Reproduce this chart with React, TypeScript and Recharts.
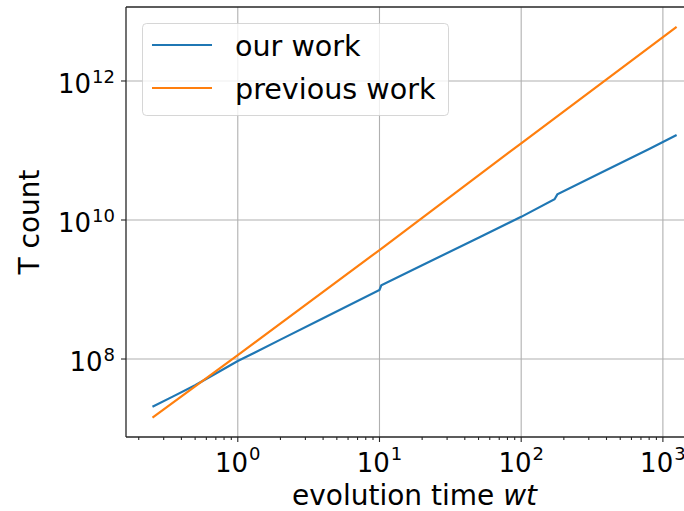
import React from "react";
import { LineChart, Line, XAxis, YAxis, CartesianGrid, Label } from "recharts";

// values (log-log axes)
const ourWorkT = [0.25, 0.35, 0.5, 0.7, 1, 2, 4, 10, 10.3, 20, 50, 100, 172, 180, 400, 800, 1250];
const ourWorkCount = [
  2.06e7, 2.9e7, 4.2e7, 6.2e7, 9.35e7, 1.9e8, 3.85e8, 9.84e8, 1.15e9, 2.23e9, 5.57e9, 1.11e10,
  1.99e10, 2.34e10, 5.25e10, 1.05e11, 1.67e11,
];
const prevWorkT = [0.25, 1, 10, 100, 1250];
const prevWorkCount = [1.43e7, 1.14e8, 3.7e9, 1.27e11, 6.0e12];

const xMajor = [1, 10, 100, 1000];
const xMinor = [
  0.2, 0.3, 0.4, 0.5, 0.6, 0.7, 0.8, 0.9, 2, 3, 4, 5, 6, 7, 8, 9, 20, 30, 40, 50, 60, 70, 80, 90,
  200, 300, 400, 500, 600, 700, 800, 900,
];
const yMajor = [1e8, 1e10, 1e12];

const ourWork = ourWorkT.map((x, i) => ({ x, y: ourWorkCount[i] }));
const prevWork = prevWorkT.map((x, i) => ({ x, y: prevWorkCount[i] }));

const FONT = "DejaVu Sans, sans-serif";
const AXIS = "#262626";
const BLUE = "#1f77b4";
const ORANGE = "#ff7f0e";

const exp10 = (v: number) => Math.round(Math.log10(v));

function XTick(props: any) {
  const { x, y, payload } = props;
  const v = payload.value;
  const major = xMajor.includes(v);
  return (
    <g>
      <line x1={x} x2={x} y1={y} y2={y + (major ? 5 : 3)} stroke={AXIS} strokeWidth={1.1} />
      {major && (
        <text x={x} y={y + 35} textAnchor="middle" fontFamily={FONT} fontSize={26} fill="#000">
          <tspan>10</tspan>
          <tspan dy={-12} dx={1} fontSize={18}>
            {exp10(v)}
          </tspan>
        </text>
      )}
    </g>
  );
}

function YTick(props: any) {
  const { x, y, payload } = props;
  return (
    <g>
      <line x1={x - 5} x2={x} y1={y} y2={y} stroke={AXIS} strokeWidth={1.1} />
      <text x={x - 11} y={y + 12} textAnchor="end" fontFamily={FONT} fontSize={26} fill="#000">
        <tspan>10</tspan>
        <tspan dy={-10} dx={1} fontSize={18}>
          {exp10(payload.value)}
        </tspan>
      </text>
    </g>
  );
}

export default function App() {
  return (
    <div style={{ position: "absolute", left: 0, top: 0, width: 684, height: 511, overflow: "hidden", background: "#fff" }}>
      <LineChart width={720} height={511} margin={{ top: 6, right: 17, bottom: 0, left: 0 }}>
        <CartesianGrid
          verticalValues={xMajor}
          horizontalValues={yMajor}
          stroke="#b0b0b0"
          strokeWidth={1.1}
        />
        <XAxis
          dataKey="x"
          type="number"
          scale="log"
          domain={[0.1626, 1919]}
          allowDataOverflow
          ticks={[...xMinor, ...xMajor].sort((a, b) => a - b)}
          interval={0}
          tick={<XTick />}
          tickLine={false}
          tickSize={0}
          tickMargin={0}
          height={74}
          axisLine={{ stroke: AXIS, strokeWidth: 1.3 }}
        >
          <Label
            content={() => (
              <text x={414.5} y={505} textAnchor="middle" fontFamily={FONT} fontSize={28} fill="#000">
                evolution time <tspan fontStyle="italic">wt</tspan>
              </text>
            )}
          />
        </XAxis>
        <XAxis
          xAxisId="top"
          orientation="top"
          dataKey="x"
          type="number"
          scale="log"
          domain={[0.1626, 1919]}
          allowDataOverflow
          height={1}
          ticks={xMajor}
          tick={false}
          tickLine={false}
          axisLine={{ stroke: AXIS, strokeWidth: 1.3 }}
        />
        <YAxis
          type="number"
          scale="log"
          domain={[7.55e6, 1.16e13]}
          allowDataOverflow
          ticks={yMajor}
          interval={0}
          tick={<YTick />}
          tickLine={false}
          tickSize={0}
          tickMargin={0}
          width={126}
          axisLine={{ stroke: AXIS, strokeWidth: 1.3 }}
        >
          <Label
            content={() => (
              <text
                x={0}
                y={0}
                transform="translate(39,222) rotate(-90)"
                textAnchor="middle"
                fontFamily={FONT}
                fontSize={28}
                fill="#000"
              >
                T count
              </text>
            )}
          />
        </YAxis>
        <Line
          data={ourWork}
          dataKey="y"
          name="our work"
          stroke={BLUE}
          strokeWidth={2.2}
          dot={false}
          isAnimationActive={false}
        />
        <Line
          data={prevWork}
          dataKey="y"
          name="previous work"
          stroke={ORANGE}
          strokeWidth={2.2}
          dot={false}
          isAnimationActive={false}
        />
      </LineChart>
      <svg width={684} height={130} style={{ position: "absolute", left: 0, top: 0, pointerEvents: "none" }}>
        <rect
          x={142.5}
          y={23.5}
          width={306}
          height={92}
          rx={4}
          fill="#fff"
          fillOpacity={0.8}
          stroke="#cccccc"
          strokeOpacity={0.8}
        />
        <line x1={152} x2={212} y1={45} y2={45} stroke={BLUE} strokeWidth={2.2} />
        <line x1={152} x2={212} y1={88} y2={88} stroke={ORANGE} strokeWidth={2.2} />
        <text x={235} y={56} fontFamily={FONT} fontSize={28.6} fill="#000">
          our work
        </text>
        <text x={235} y={99} fontFamily={FONT} fontSize={28.6} fill="#000">
          previous work
        </text>
      </svg>
    </div>
  );
}
